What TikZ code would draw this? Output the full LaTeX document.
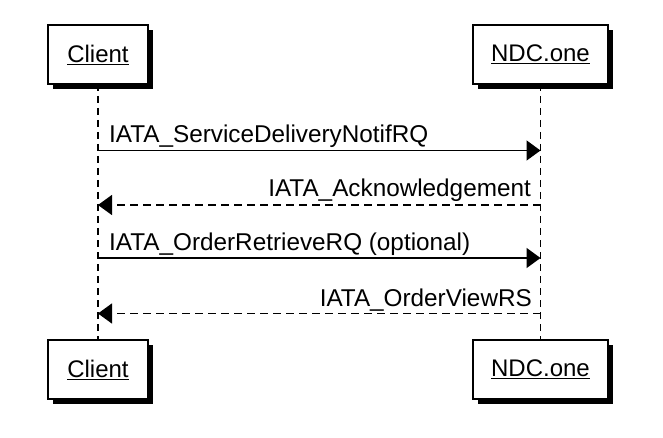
\documentclass[tikz,border=0pt]{standalone}
\usepackage{fontspec}
\setmainfont{Liberation Sans}
\usetikzlibrary{arrows.meta,shadows}
\tikzset{
 actor/.style={draw, line width=1.4pt, fill=white, minimum height=59pt, inner sep=0pt,
   font=\fontsize{24}{28}\selectfont,
   drop shadow={shadow xshift=5pt, shadow yshift=-5pt, fill=black, opacity=1}},
 life/.style={line width=1.4pt, dash pattern=on 7pt off 5pt},
 msg/.style={line width=1.5pt, -{Triangle[length=14pt,width=20pt]}},
 ret/.style={msg, dash pattern=on 8pt off 5pt},
 lbl/.style={inner sep=0pt, font=\fontsize{24.3}{28}\selectfont}
}
\begin{document}
\begin{tikzpicture}[x=1pt,y=-1pt]
\useasboundingbox (0,0) rectangle (663,438);
% lifelines first (behind boxes)
\coordinate (cl) at (98,84);
\coordinate (cb) at (98,339);
\coordinate (nl) at (540.5,84);
\coordinate (nb) at (540.5,339);
\draw[life] (cl) -- (cb);
\draw[life] (nl) -- (nb);
% actors
\node[actor, minimum width=100pt] (ct) at (98,54.5) {\underline{Client}};
\node[actor, minimum width=135pt] (nt) at (540.5,54.5) {\underline{NDC.one}};
\node[actor, minimum width=100pt] (cbx) at (98,369.5) {\underline{Client}};
\node[actor, minimum width=135pt] (nbx) at (540.5,369.5) {\underline{NDC.one}};
% message anchor points
\coordinate (c1) at (98,150.5);  \coordinate (n1) at (540.5,150.5);
\coordinate (c2) at (98,205);  \coordinate (n2) at (540.5,205);
\coordinate (c3) at (98,258);  \coordinate (n3) at (540.5,258);
\coordinate (c4) at (98,313.5);  \coordinate (n4) at (540.5,313.5);
\draw[msg] (c1) -- (n1);
\draw[ret] (n2) -- (c2);
\draw[msg] (c3) -- (n3);
\draw[ret] (n4) -- (c4);
\node[lbl, anchor=base west] (l1) at (109,143) {IATA\_ServiceDeliveryNotifRQ};
\node[lbl, anchor=base east] (l2) at (531,197) {IATA\_Acknowledgement};
\node[lbl, anchor=base west] (l3) at (109,251) {IATA\_OrderRetrieveRQ (optional)};
\node[lbl, anchor=base east] (l4) at (532,306) {IATA\_OrderViewRS};
\end{tikzpicture}
\end{document}
